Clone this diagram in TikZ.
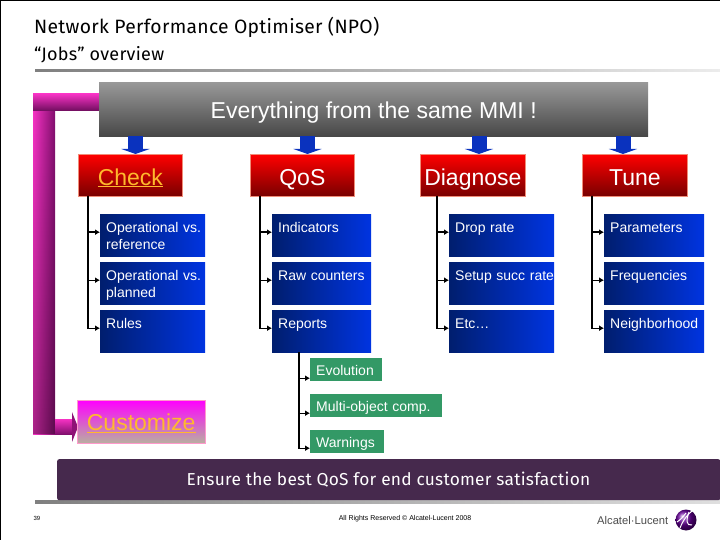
\documentclass[tikz,border=0pt]{standalone}
\usepackage{xcolor}
\usepackage{fontspec}
\usepackage{tikz}
\usetikzlibrary{arrows.meta,fadings}
\setmainfont{Liberation Sans}
\newfontfamily\titlefont[LetterSpace=1.5]{Fira Sans}
\definecolor{feedblue}{RGB}{10, 50, 190}
\definecolor{boxdark}{RGB}{0, 30, 110}
\definecolor{boxlight}{RGB}{0, 52, 225}
\definecolor{jobsalmon}{RGB}{240, 140, 120}
\definecolor{jobdark}{RGB}{120, 0, 0}
\definecolor{reportgreen}{RGB}{51, 153, 102}
\definecolor{pinklight}{RGB}{245, 50, 195}
\definecolor{pinkdark}{RGB}{130, 15, 110}
\definecolor{bannerpurple}{RGB}{70, 41, 77}
\definecolor{linkgold}{RGB}{255, 185, 45}
\definecolor{customizebottom}{RGB}{184, 176, 160}
\tikzset{
    jobbox/.style={anchor=north west, draw=jobsalmon, line width=0.7pt, top color=red, bottom color=jobdark,
        minimum width=#1, minimum height=42pt, inner sep=0pt, text=white, text height=20pt, text depth=0.6pt,
        font=\fontsize{23}{25}\selectfont},
    bluebox/.style={anchor=north west, left color=boxdark, right color=boxlight, text=white,
        text width=#1, minimum height=42pt, inner xsep=6pt, inner ysep=0pt, align=left,
        execute at begin node={\rule{0pt}{16pt}}, font=\fontsize{14}{17}\selectfont},
    greenbox/.style={anchor=north west, fill=reportgreen, text=white,
        minimum width=#1, minimum height=23pt, inner xsep=6pt, inner ysep=0pt, align=left,
        text height=13pt, text depth=2.2pt, font=\fontsize{14}{17}\selectfont},
    feedarrow/.style={draw=feedblue, line width=15pt, -{Triangle[length=5pt,width=28pt]}},
    branch/.style={draw=black, line width=1.4pt, -{Latex[length=5pt,width=6pt]}},
}
\begin{document}
\begin{tikzpicture}[x=1pt,y=-1pt]
    \useasboundingbox (0,0) rectangle (720,540);
    \fill[white] (0,0) rectangle (720,540);
    \fill[black] (0,0) rectangle (720,1);
    \fill[black] (0,0) rectangle (1.3,540);
    % titles and rules
    \node[anchor=base west, inner sep=0pt, font=\titlefont\fontsize{19.3}{22}\selectfont] (title) at (34,34) {Network Performance Optimiser (NPO)};
    \node[anchor=base west, inner sep=0pt, font=\titlefont\fontsize{18}{20}\selectfont] (subtitle) at (34,61) {“Jobs” overview};
    \shade[left color=gray, right color=gray!15] (35,70) rectangle (720,72);
    \shade[left color=gray, right color=gray!25] (35,500) rectangle (720,503);

    % customize loop on the left
    \shade[left color=pinklight, right color=pinkdark] (33,111) rectangle (55,434);
    \fill[black, opacity=0.3, path fading=north] (33,111) rectangle (55,434);
    \shade[top color=pinklight, bottom color=pinkdark!85!black] (33,94) rectangle (100,111);
    \shade[top color=pinklight, bottom color=pinkdark] (55,419) rectangle (72.5,434);
    \fill[pinkdark!90!pinklight] (72,412) -- (78,427) -- (72,442) -- cycle;

    \node[anchor=north west, top color=gray!80, bottom color=black!72, minimum width=549pt, minimum height=54pt,
        inner sep=0pt, text=white, text height=20pt, text depth=2pt, font=\fontsize{23}{25}\selectfont] (header) at (99,82) {Everything from the same MMI !};

    \node[jobbox=104pt] (check) at (78,154) {\textcolor{linkgold}{\underline{Check}}};
    \node[jobbox=104pt] (qos) at (250,154) {QoS};
    \node[jobbox=105pt] (diagnose) at (420,154) {Diagnose};
    \node[jobbox=105pt] (tune) at (582,154) {Tune};

    \coordinate (feedcheck) at (135.5,136);
    \coordinate (feedqos) at (307.5,136);
    \coordinate (feeddiagnose) at (479,136);
    \coordinate (feedtune) at (623,136);
    \draw[feedarrow] (feedcheck) -- (feedcheck |- check.north);
    \draw[feedarrow] (feedqos) -- (feedqos |- qos.north);
    \draw[feedarrow] (feeddiagnose) -- (feeddiagnose |- diagnose.north);
    \draw[feedarrow] (feedtune) -- (feedtune |- tune.north);

    % check column
    \node[bluebox=93pt] (reference) at (100,214) {\mbox{Operational vs.}\\reference\strut};
    \node[bluebox=93pt] (planned) at (100,262) {\mbox{Operational vs.}\\planned\strut};
    \node[bluebox=93pt] (rules) at (100,310) {Rules\\\strut};
    % qos column
    \node[bluebox=87pt] (indicators) at (272,214) {Indicators\\\strut};
    \node[bluebox=87pt] (counters) at (272,262) {Raw counters\\\strut};
    \node[bluebox=87pt] (reports) at (272,310) {Reports\\\strut};
    % diagnose column
    \node[bluebox=93pt] (droprate) at (449,214) {Drop rate\\\strut};
    \node[bluebox=93pt] (setup) at (449,262) {\mbox{Setup succ rate}\\\strut};
    \node[bluebox=93pt] (etc) at (449,310) {Etc…\\\strut};
    % tune column
    \node[bluebox=88pt] (parameters) at (604,214) {Parameters\\\strut};
    \node[bluebox=88pt] (frequencies) at (604,262) {Frequencies\\\strut};
    \node[bluebox=88pt] (neighborhood) at (604,310) {\mbox{Neighborhood}\\\strut};

    \coordinate (checkbus) at (88,196);
    \coordinate (qosbus) at (260,196);
    \coordinate (diagnosebus) at (437,196);
    \coordinate (tunebus) at (592,196);
    \coordinate (reportsbus) at (299,352);
    \draw[branch] (checkbus) |- ([yshift=3pt]rules.west);
    \draw[branch] (qosbus) |- ([yshift=3pt]reports.west);
    \draw[branch] (diagnosebus) |- ([yshift=3pt]etc.west);
    \draw[branch] (tunebus) |- ([yshift=3pt]neighborhood.west);
    \draw[branch] (checkbus |- reference.west) ++(0,-3) -- ([yshift=3pt]reference.west);
    \draw[branch] (checkbus |- planned.west) ++(0,-3) -- ([yshift=3pt]planned.west);
    \draw[branch] (qosbus |- indicators.west) ++(0,-3) -- ([yshift=3pt]indicators.west);
    \draw[branch] (qosbus |- counters.west) ++(0,-3) -- ([yshift=3pt]counters.west);
    \draw[branch] (diagnosebus |- droprate.west) ++(0,-3) -- ([yshift=3pt]droprate.west);
    \draw[branch] (diagnosebus |- setup.west) ++(0,-3) -- ([yshift=3pt]setup.west);
    \draw[branch] (tunebus |- parameters.west) ++(0,-3) -- ([yshift=3pt]parameters.west);
    \draw[branch] (tunebus |- frequencies.west) ++(0,-3) -- ([yshift=3pt]frequencies.west);

    % report kinds
    \node[greenbox=72pt, text width=60pt] (evolution) at (310,358) {Evolution};
    \node[greenbox=132pt, text width=120pt] (multiobject) at (310,394) {Multi-object comp.};
    \node[greenbox=74pt, text width=62pt] (warnings) at (310,430) {Warnings};
    \draw[branch] (reportsbus) |- ([yshift=-6.5pt]warnings.west);
    \draw[branch] (reportsbus |- evolution.west) ++(0,8.5) -- ([yshift=-8.5pt]evolution.west);
    \draw[branch] (reportsbus |- multiobject.west) ++(0,7.5) -- ([yshift=-7.5pt]multiobject.west);

    \node[anchor=north west, draw=pink!80!magenta, top color=magenta, bottom color=customizebottom,
        minimum width=128pt, minimum height=43pt, inner sep=0pt, text height=19pt, text depth=2pt, font=\fontsize{23}{25}\selectfont] (customize) at (77,400)
        {\textcolor{linkgold}{\underline{Customize}}};

    \node[anchor=north west, fill=bannerpurple, rounded corners=2pt, minimum width=663pt, minimum height=41pt, inner sep=0pt] (banner) at (57,459) {};
    \node[text=white, inner sep=0pt, font=\titlefont\fontsize{17.3}{20}\selectfont] (bannertext) at (388.5,480) {Ensure the best QoS for end customer satisfaction};

    % footer
    \node[inner sep=0pt, font=\fontsize{6}{7}\selectfont] (pagenum) at (37,518) {39};
    \node[inner sep=0pt, font=\fontsize{7}{8}\selectfont] (copyright) at (405,519) {All Rights Reserved © Alcatel-Lucent 2008};
    \node[anchor=west, inner sep=0pt, text=black!70, font=\fontsize{11.2}{14}\selectfont] (brand) at (597,520) {Alcatel·Lucent};
    \shade[ball color=violet!80!blue] (686,520) circle (10.5);
    \draw[white, line width=1pt] (680,528) .. controls (683,520) and (688,514) .. (692,511);
    \draw[white, line width=1pt] (686,513) .. controls (683,517) and (680,520) .. (677,522);
    \draw[white, line width=1pt] (689,512) .. controls (686,520) and (686,526) .. (692,525);
\end{tikzpicture}
\end{document}
